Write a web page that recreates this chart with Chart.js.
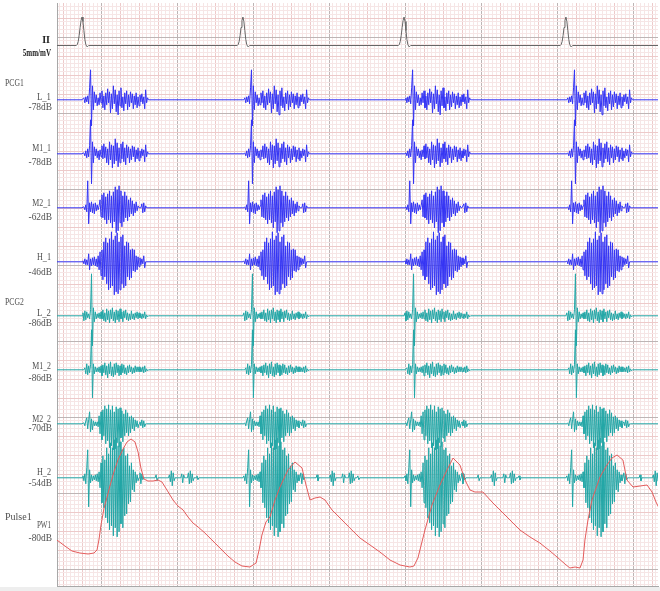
<!DOCTYPE html>
<html><head><meta charset="utf-8">
<script src="https://cdn.jsdelivr.net/npm/chart.js@4"></script>
<style>html,body{margin:0;padding:0;background:#fff;overflow:hidden}#wrap{width:660px;height:591px;position:relative}</style>
</head><body><div id="wrap"><canvas id="c" width="660" height="591"></canvas></div>
<script>
// ---------------- data ----------------
// R-peak times of the four beats (ms)
const beatTimesMs = [300, 1147, 1995, 2847];
const sampleStepMs = 5;
// ECG lead II, one beat, samples every 5 ms starting 30 ms before R
const ecgStartMs = -30;
const ecgII = [0, 1, 4, 10, 18, 25, 28.5, 24, 15, 6, 1, -1, -1, 0];
// PCG channels, one beat each, samples every 5 ms starting at R
const pcgL1 = [0,0,2,-3,3,-2,4,-4,12,30,-26,14,-10,8,-3,5,-6,2,-5,7,
  -3,9,-8,4,-10,7,-5,11,-3,8,-13,6,-9,14,-4,10,-12,5,-15,9,
  -6,12,-8,3,-11,7,-4,9,-10,5,-7,8,-3,6,-9,4,-5,7,-8,3,
  -6,5,-2,6,-4,3,-9,10,-3,2,0];
const pcgM1_1 = [0,0,1,-2,3,-4,5,-3,8,34,-30,12,-9,7,-2,5,-4,3,-6,4,
  -3,8,-5,10,-4,7,-9,5,-11,12,-6,9,-14,8,-10,15,-7,11,-13,6,
  -9,10,-5,12,-8,6,-11,9,-4,7,-9,5,-6,8,-3,7,-8,4,-5,6,
  -7,3,-4,5,-2,4,-8,9,-3,2,0];
const pcgM2_1 = [0,0,1,-2,3,-4,27,-16,5,-4,6,-5,4,-6,5,-3,3,-2,2,8,
  -9,13,-10,15,-12,11,-16,14,-12,17,-15,12,-20,16,-14,21,-25,18,-23,22,
  -15,17,-19,12,-14,16,-10,12,-13,8,-9,10,-6,7,-8,4,-5,6,-3,2,
  0,0,0,4,-5,5,-4,2,0];
const pcgH1 = [0,1,-2,3,-3,2,-3,8,-8,3,-4,4,-3,5,-4,3,-5,6,-8,10,
  -14,12,-18,20,-15,24,-22,19,-28,23,-26,30,-24,22,-33,26,-30,29,-32,20,
  -28,25,-22,27,-26,16,-24,20,-15,19,-18,12,-16,13,-9,12,-10,6,-8,5,
  -5,4,-3,3,-2,6,-6,0];
const pcgL2 = [0,3,-5,5,-4,4,-2,2,-3,6,42,-30,8,-6,4,-3,2,-2,3,-3,
  4,-3,6,-5,3,-6,7,-4,5,-7,6,-3,8,-5,4,-7,6,-4,5,-6,
  7,-3,4,-6,5,-2,6,-4,3,-5,2,-4,5,-3,2,-4,3,-2,4,-3,
  3,-2,2,-3,2,-2,4,-3,1,-1,0];
const pcgM1_2 = [0,0,0,2,-4,6,-5,4,-3,5,40,-28,6,-4,3,-2,2,-2,3,-3,
  4,-6,5,-3,7,-5,4,-8,6,-4,8,-6,3,-7,6,-5,7,-3,5,-6,
  4,-5,6,-3,5,-4,2,-5,4,-3,5,-2,3,-4,2,-3,4,-2,3,-2,
  3,-2,2,-2,3,-3,4,-2,1,-1,0];
const pcgM2_2 = [0,0,1,-2,3,6,-5,4,12,-8,5,-6,3,-2,2,-2,2,-3,8,-10,
  12,-16,14,-12,18,-20,15,-17,19,-24,14,-22,18,-26,12,-25,17,-19,15,-23,
  16,-14,13,-18,10,-12,14,-9,11,-12,7,-9,8,-5,6,-7,4,-3,3,-4,
  0,2,-2,4,-4,3,-3,0,0];
const pcgH2 = [0,2,-3,4,-6,10,28,-29,8,-5,3,-3,2,-2,3,-3,4,-4,6,-10,
  15,-25,22,-30,18,-40,30,-45,24,-52,35,-48,30,-58,38,-50,40,-59,32,-54,
  36,-46,28,-50,30,-38,22,-36,24,-26,12,-24,15,-12,8,-14,6,-5,3,-3,
  0,5,-6,4,-2,0,0,0,0,0,0,0,0,0,0,0,0,0,3,-3,
  0,0,0,0,0,0,0,0,0,0,0,0,3,-4,7,-8,5,-3,0,0,
  0,0,0,0,0,4,-5,3,0,0,0,0,5,-6,7,-5,4,-3,0,0,
  0,2,-2,0];
// Pulse PW1: time (ms) and amplitude
const pulseTimesMs = [168,210,247,289,332,363,379,389,400,416,432,447,468,489,516,537,558,579,595,610,626,647,674,700,721,747,779,805,832,858,884,911,947,984,1026,1068,1105,1142,1184,1216,1232,1247,1268,1289,1316,1342,1384,1421,1458,1479,1500,1526,1553,1579,1616,1658,1710,1763,1816,1868,1921,1974,2026,2047,2068,2105,2142,2184,2221,2253,2289,2316,2342,2368,2410,2463,2516,2563,2605,2658,2710,2763,2800,2842,2868,2895,2921,2937,2947,2963,2984,3026,3063,3089,3116,3147,3168,3200,3237,3274,3300,3321,3342];
const pulsePW1 = [30,24,19,17,16,17,20,30,45,62,73,84,98,110,121,128,131,128,118,102,91,89,89,90,88,80,70,64,60,53,47,43,37,30,22,14,8,4,3,7,20,35,48,53,70,83,100,108,102,85,70,72,73,70,60,52,42,32,25,18,10,5,3,4,12,40,65,85,100,112,105,90,80,78,78,67,57,48,40,33,27,19,13,6,2,3,2,10,30,50,70,93,105,112,115,110,90,83,84,85,78,68,60];

const channelNames = ['L_1','M1_1','M2_1','H_1','L_2','M1_2','M2_2','H_2'];
const channelGains = ['-78dB','-78dB','-62dB','-46dB','-86dB','-86dB','-70dB','-54dB'];
const groupNames = ['PCG1','PCG2','Pulse1'];

// ---------------- layout / style ----------------
const PX_PER_MS = 0.19;
const LEFT = 57, TOP = 3, RIGHT = 658, BOTTOM = 586;
const X_MIN = 168.4, X_MAX = X_MIN + (RIGHT - LEFT) / PX_PER_MS;
const ECG_BASE = 45.5;
const chanBase = [99.8, 153.8, 207.8, 261.8, 315.8, 369.8, 423.8, 477.8];
const PW_BASE = 570;
const BLUE = '#3434f4', TEAL = '#22a6a6';
const chanColor = [BLUE, BLUE, BLUE, BLUE, TEAL, TEAL, TEAL, TEAL];
const pcgData = [pcgL1, pcgM1_1, pcgM2_1, pcgH1, pcgL2, pcgM1_2, pcgM2_2, pcgH2];

function beatTrace(values, startMs, base) {
  const pts = [{x: X_MIN, y: base}];
  beatTimesMs.forEach(r => {
    values.forEach((v, i) => pts.push({x: r + startMs + i * sampleStepMs, y: base - v}));
  });
  pts.push({x: X_MAX, y: base});
  return pts;
}

const datasets = [];
datasets.push({data: pulseTimesMs.map((t, i) => ({x: t, y: PW_BASE - pulsePW1[i]})), borderColor: '#e45c5c', order: 0});
pcgData.forEach((arr, k) => datasets.push({data: beatTrace(arr, 0, chanBase[k]), borderColor: chanColor[k], order: 1}));
datasets.push({data: beatTrace(ecgII, ecgStartMs, ECG_BASE), borderColor: '#666666', order: 1});

const labelPlugin = {
  id: 'labels',
  afterDraw(chart) {
    const c = chart.ctx;
    c.save();
    c.textBaseline = 'middle';
    const txt = (s, x, y, align, bold) => {
      c.font = (bold ? 'bold ' : '') + '10px "Liberation Serif", serif';
      c.fillStyle = bold ? '#222' : '#505050';
      c.textAlign = align;
      c.fillText(s, x, y, s.length * 4.7);
    };
    txt('II', 50, 40.5, 'right', true);
    txt('5mm/mV', 51, 53, 'right', true);
    txt(groupNames[0], 5, 83, 'left');
    txt(groupNames[1], 5, 302, 'left');
    txt(groupNames[2], 5, 517, 'left');
    const nameY = [97, 148.5, 203, 257, 313, 366, 419.5, 472.5];
    const gainY = [107, 162, 217, 272, 323.5, 378, 428.5, 483];
    channelNames.forEach((n, i) => {
      txt(n, 51, nameY[i], 'right');
      txt(channelGains[i], 52, gainY[i], 'right');
    });
    txt('PW1', 51, 525, 'right');
    txt('-80dB', 52, 538.5, 'right');
    c.fillStyle = '#eeeeee';
    c.fillRect(0, 587, 660, 4);
    c.restore();
  }
};

const SMALL = '#f6e6e6', MED = '#edcaca', MAJOR = '#bdb5b5';
new Chart(document.getElementById('c'), {
  type: 'line',
  data: {datasets},
  options: {
    responsive: false, animation: false, events: [],
    layout: {padding: {left: LEFT, top: TOP, right: 660 - RIGHT, bottom: 591 - BOTTOM}},
    plugins: {legend: {display: false}, tooltip: {enabled: false}},
    elements: {point: {radius: 0}, line: {borderWidth: 1, tension: 0}},
    scales: {
      x: {
        type: 'linear', min: X_MIN, max: X_MAX,
        ticks: {display: false},
        border: {display: true, color: '#a8a8a8'},
        grid: {drawTicks: false, lineWidth: 1,
          color: ctx => { const v = Math.round(ctx.tick.value); return v % 400 === 0 ? MAJOR : (v % 100 === 0 ? MED : SMALL); }},
        afterBuildTicks: ax => { const t = []; for (let v = 180; v <= X_MAX; v += 20) t.push({value: v}); ax.ticks = t; }
      },
      y: {
        type: 'linear', min: TOP, max: BOTTOM, reverse: true,
        ticks: {display: false},
        border: {display: true, color: '#a8a8a8'},
        grid: {drawTicks: false, lineWidth: 1,
          color: ctx => { const k = Math.round((569 - ctx.tick.value) / 3.8); return k % 20 === 0 ? MAJOR : (k % 5 === 0 ? MED : SMALL); }},
        afterBuildTicks: ax => { const t = []; for (let k = -4; k <= 148; k++) { const v = 569 - 3.8 * k; if (v >= TOP && v <= BOTTOM) t.push({value: v}); } ax.ticks = t; }
      }
    }
  },
  plugins: [labelPlugin]
});
</script></body></html>
